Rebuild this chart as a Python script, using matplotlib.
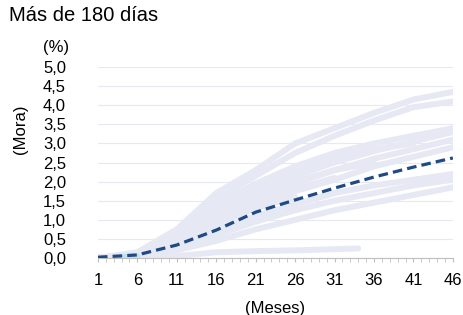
import matplotlib.pyplot as plt
import matplotlib.ticker as mticker

plt.rcParams['font.family'] = ['Liberation Sans', 'DejaVu Sans']

months = [1, 6, 11, 16, 21, 26, 31, 36, 41, 46]

# cohort curves (% of loans more than 180 days past due)
cohorts = [
    [0.0, 0.15, 0.75, 1.70, 2.30, 3.00, 3.40, 3.80, 4.15, 4.35],
    [0.0, 0.12, 0.65, 1.55, 2.15, 2.75, 3.20, 3.60, 3.95, 4.10],
    [0.0, 0.10, 0.55, 1.40, 1.95, 2.40, 2.75, 3.00, 3.20, 3.40],
    [0.0, 0.08, 0.45, 1.20, 1.75, 2.15, 2.50, 2.80, 3.05, 3.30],
    [0.0, 0.06, 0.40, 1.05, 1.55, 1.95, 2.30, 2.60, 2.85, 3.10],
    [0.0, 0.05, 0.35, 0.95, 1.40, 1.75, 2.05, 2.40, 2.65, 2.90],
    [0.0, 0.04, 0.30, 0.75, 1.10, 1.40, 1.70, 1.90, 2.05, 2.20],
    [0.0, 0.03, 0.25, 0.60, 0.95, 1.25, 1.50, 1.70, 1.90, 2.05],
    [0.0, 0.02, 0.20, 0.45, 0.75, 1.00, 1.25, 1.45, 1.65, 1.85],
    [0.0, 0.08, 0.50, 1.30, 1.85, 2.25, 2.60, 2.85, 3.00],
    [0.0, 0.07, 0.45, 1.15, 1.65, 2.00, 2.30, 2.50],
    [0.0, 0.05, 0.35, 1.00, 1.45, 1.80, 2.10],
    [0.0, 0.06, 0.40, 0.90, 1.30, 1.60],
    [0.0, 0.04, 0.30, 0.70, 1.05],
    [0.0, 0.03, 0.25, 0.55],
]
low_months = [1, 6, 11, 16, 21, 26, 31, 34]
low_cohort = [0.0, 0.0, 0.05, 0.15, 0.18, 0.20, 0.23, 0.25]
recent_months = [4, 5, 6]
recent_cohort = [0.02, 0.03, 0.04]

mean_curve = [0.02, 0.08, 0.34, 0.73, 1.20, 1.52, 1.83, 2.12, 2.38, 2.62]

xtick_vals = [1, 6, 11, 16, 21, 26, 31, 36, 41, 46]
ytick_vals = [0.0, 0.5, 1.0, 1.5, 2.0, 2.5, 3.0, 3.5, 4.0, 4.5, 5.0]
ytick_labels = ['0,0', '0,5', '1,0', '1,5', '2,0', '2,5', '3,0', '3,5', '4,0', '4,5', '5,0']

fig = plt.figure(figsize=(4.64, 3.15), dpi=100)
ax = fig.add_axes([0.211, 0.181, 0.765, 0.606])

for c in cohorts:
    ax.plot(months[:len(c)], c, color='#E6E9F3', lw=4.3, solid_capstyle='round', zorder=2)
ax.plot(low_months, low_cohort, color='#E6E9F3', lw=4.3, solid_capstyle='round', zorder=2)
ax.plot(recent_months, recent_cohort, color='#BFE2EE', lw=4.3, solid_capstyle='round', zorder=3)
ax.plot(months, mean_curve, color='#1F4A84', lw=2.3, ls=(0, (3, 1.6)), zorder=4)

ax.set_xlim(1, 46)
ax.set_ylim(0, 5.0)
ax.set_xticks(xtick_vals)
ax.xaxis.set_minor_locator(mticker.MultipleLocator(1))
ax.set_yticks(ytick_vals)
ax.set_yticklabels(ytick_labels)
ax.grid(axis='y', color='#E8E8F2', lw=0.8, zorder=0)
ax.set_axisbelow(True)

for s in ['top', 'right', 'left']:
    ax.spines[s].set_visible(False)
ax.spines['bottom'].set_color('#BFBFBF')
ax.spines['bottom'].set_linewidth(0.8)

ax.tick_params(axis='x', which='both', direction='out', length=3, color='#BFBFBF',
               labelsize=12, pad=8)
ax.tick_params(axis='y', length=0, labelsize=12, pad=23)

ax.set_xlabel('(Meses)', fontsize=12, labelpad=9)
fig.text(0.093, 0.848, '(%)', fontsize=12, ha='left', va='center')
fig.text(0.045, 0.59, '(Mora)', fontsize=12, rotation=90, ha='center', va='center')
fig.text(0.019, 0.952, 'Más de 180 días', fontsize=14.5, ha='left', va='center')

fig.savefig('out.png', dpi=100)
